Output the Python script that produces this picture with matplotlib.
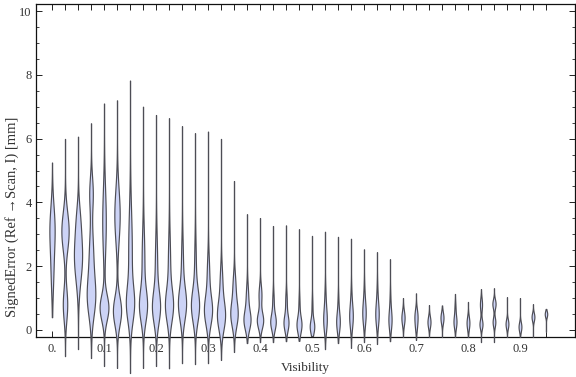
import numpy as np
import matplotlib
matplotlib.use("Agg")
import matplotlib.pyplot as plt

# ---------------- data ----------------
visibility = [0.0, 0.025, 0.05, 0.075, 0.1, 0.125, 0.15, 0.175, 0.2, 0.225,
              0.25, 0.275, 0.3, 0.325, 0.35, 0.375, 0.4, 0.425, 0.45, 0.475,
              0.5, 0.525, 0.55, 0.575, 0.6, 0.625, 0.65, 0.675, 0.7, 0.725,
              0.75, 0.775, 0.8, 0.825, 0.85, 0.875, 0.9, 0.925, 0.95]

err_min = [0.40, -0.82, -0.60, -0.88, -1.13, -1.19, -1.35, -1.19, -1.13, -1.20,
           -1.04, -1.07, -1.04, -0.94, -0.69, -0.41, -0.38, -0.38, -0.35, -0.34,
           -0.19, -0.60, -0.41, -0.56, -0.38, -0.44, -0.35, -0.22, -0.31, -0.22,
           -0.22, -0.22, -0.22, -0.38, -0.38, -0.22, -0.22, -0.22, -0.06]

err_max = [5.25, 5.99, 6.06, 6.48, 7.10, 7.20, 7.82, 7.00, 6.74, 6.64,
           6.39, 6.17, 6.22, 5.99, 4.67, 3.63, 3.51, 3.26, 3.28, 3.16,
           2.95, 3.08, 2.92, 2.86, 2.53, 2.44, 2.22, 1.00, 1.15, 0.78,
           0.77, 1.13, 0.88, 1.28, 1.31, 1.03, 1.00, 0.81, 0.66]

# density modes of each distribution: (centre, spread, weight)
modes = [
    [(3.2, 0.7, 1.0), (1.8, 0.7, 0.45)],
    [(3.1, 0.6, 1.0), (0.8, 0.5, 0.6)],
    [(2.3, 0.75, 1.0), (3.5, 0.5, 0.3)],
    [(1.0, 0.6, 1.0), (2.3, 0.8, 0.55), (4.3, 0.5, 0.45)],
    [(0.7, 0.4, 1.0), (3.4, 1.0, 0.4)],
    [(0.6, 0.45, 1.0), (3.6, 0.8, 0.65)],
    [(0.8, 0.55, 1.0), (2.5, 1.2, 0.5)],
    [(0.75, 0.5, 1.0), (2.2, 0.9, 0.35)],
    [(0.7, 0.5, 1.0), (2.0, 0.9, 0.3)],
    [(0.75, 0.5, 1.0), (2.0, 0.9, 0.3)],
    [(0.8, 0.5, 1.0), (2.0, 0.8, 0.25)],
    [(0.75, 0.5, 1.0), (2.0, 0.8, 0.2)],
    [(0.6, 0.45, 1.0), (1.7, 0.6, 0.3)],
    [(0.45, 0.45, 1.0), (1.5, 0.5, 0.3)],
    [(0.5, 0.4, 1.0), (1.4, 0.4, 0.35)],
    [(0.3, 0.3, 1.0), (1.0, 0.4, 0.35)],
    [(0.3, 0.25, 1.0), (1.1, 0.3, 0.45)],
    [(0.25, 0.25, 1.0), (0.9, 0.3, 0.25)],
    [(0.22, 0.25, 1.0), (0.9, 0.3, 0.3)],
    [(0.16, 0.25, 1.0), (0.8, 0.3, 0.2)],
    [(0.1, 0.22, 1.0), (0.7, 0.3, 0.2)],
    [(0.3, 0.35, 1.0), (1.0, 0.4, 0.3)],
    [(0.25, 0.3, 1.0), (0.9, 0.3, 0.2)],
    [(0.4, 0.35, 1.0), (1.0, 0.4, 0.25)],
    [(0.5, 0.35, 1.0), (1.1, 0.4, 0.25)],
    [(0.47, 0.35, 1.0), (1.1, 0.4, 0.25)],
    [(0.3, 0.3, 1.0), (0.9, 0.35, 0.25)],
    [(0.38, 0.22, 1.0)],
    [(0.45, 0.22, 1.0), (0.1, 0.2, 0.5)],
    [(0.25, 0.18, 1.0)],
    [(0.38, 0.18, 1.0)],
    [(0.25, 0.2, 1.0), (0.7, 0.2, 0.3)],
    [(0.22, 0.2, 1.0)],
    [(0.18, 0.15, 1.0), (0.8, 0.2, 0.7)],
    [(0.82, 0.15, 1.0), (0.25, 0.15, 0.85)],
    [(0.19, 0.15, 1.0)],
    [(0.1, 0.15, 1.0)],
    [(0.41, 0.13, 1.0)],
    [(0.5, 0.1, 1.0)],
]

# relative peak width of each violin (1.0 = widest)
peak_width = [0.58, 0.80, 0.90, 0.95, 0.97, 0.90, 0.92, 0.90, 0.90, 0.90,
              0.90, 0.90, 0.90, 0.90, 0.82, 0.78, 0.70, 0.61, 0.55, 0.55,
              0.50, 0.40, 0.40, 0.40, 0.38, 0.38, 0.35, 0.35, 0.35, 0.33,
              0.33, 0.33, 0.31, 0.33, 0.35, 0.31, 0.31, 0.31, 0.27]

tick_labels = ["0.", "0.1", "0.2", "0.3", "0.4", "0.5", "0.6", "0.7", "0.8", "0.9"]

# ---------------- figure ----------------
fig = plt.figure(figsize=(5.76, 3.77), dpi=100)
ax = fig.add_axes([36 / 576, 1 - 337 / 377, (575 - 36) / 576, (337 - 4) / 377])

serif = ["Liberation Serif", "DejaVu Serif"]
text_col = "#333333"

vpstats = []
for lo, hi, comps in zip(err_min, err_max, modes):
    y = np.linspace(lo, hi, 400)
    d = np.zeros_like(y)
    for mu, s, w in comps:
        d += w * np.exp(-0.5 * ((y - mu) / s) ** 2)
    d += 0.015 * d.max()
    vpstats.append(dict(coords=y, vals=d, mean=np.nan, median=np.nan,
                        min=lo, max=hi))

full_w = 0.0175
parts = ax.violin(vpstats, positions=visibility,
                  widths=[full_w * w for w in peak_width],
                  showmeans=False, showextrema=False, showmedians=False)
for b in parts["bodies"]:
    b.set_facecolor("#ccd3f6")
    b.set_edgecolor("#4d4d55")
    b.set_linewidth(0.85)
    b.set_alpha(1.0)
    b.set_clip_on(False)
    b.set_zorder(3)

ax.set_xlim(-0.0308, 1.0058)
ax.set_ylim(-0.22, 10.22)

# x ticks: one at every distribution, label every 4th
xt_labels = []
k = 0
for i, v in enumerate(visibility):
    if i % 4 == 0:
        xt_labels.append(tick_labels[k])
        k += 1
    else:
        xt_labels.append("")
ax.set_xticks(visibility)
ax.set_xticklabels(xt_labels, family=serif, fontsize=9, color=text_col)

ax.set_yticks([0, 2, 4, 6, 8, 10])
ax.set_yticklabels(["0", "2", "4", "6", "8", "10"], family=serif, fontsize=9,
                   color=text_col)
ax.set_yticks(np.arange(0, 10.01, 0.5), minor=True)

ax.tick_params(axis="both", which="major", direction="in", length=4, width=0.7,
               top=True, right=True, color="#222222")
ax.tick_params(axis="y", which="minor", direction="in", length=2.5, width=0.6,
               left=True, right=True, color="#222222")
ax.tick_params(axis="x", which="major", pad=4)
ax.tick_params(axis="y", which="major", pad=3)

for sp in ax.spines.values():
    sp.set_linewidth(0.9)
    sp.set_color("#111111")

fig.text(305 / 576, 1 - 368 / 377, "Visibility", ha="center", va="center",
         family=serif, fontsize=9.5, color=text_col)
fig.text(12 / 576, 1 - 217 / 377, "SignedError (Ref \u2192Scan, I) [mm]",
         ha="center", va="center", rotation=90, family=serif, fontsize=10.5,
         color=text_col)

fig.savefig("out.png", dpi=100)
